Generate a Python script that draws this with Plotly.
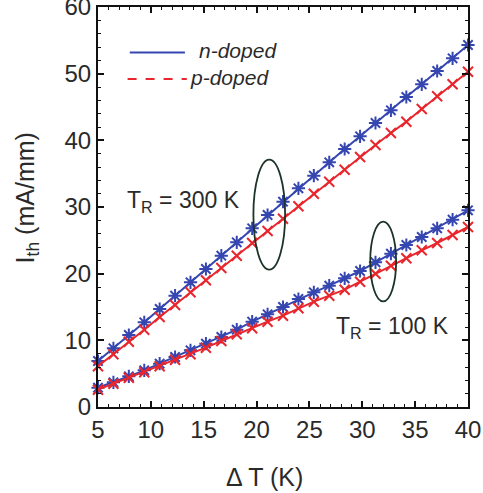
import numpy as np
import plotly.graph_objects as go

# Data
dT = np.linspace(5, 40, 25).tolist()

n300 = [6.9, 8.8, 10.8, 12.7, 14.7, 16.7, 18.7, 20.7, 22.7, 24.7, 26.8, 28.8, 30.8,
        32.8, 34.7, 36.7, 38.7, 40.6, 42.6, 44.5, 46.5, 48.4, 50.4, 52.3, 54.3]
p300 = [6.1, 7.9, 9.8, 11.6, 13.5, 15.3, 17.2, 19.0, 20.85, 22.7, 24.6, 26.4, 28.25,
        30.1, 32.0, 33.8, 35.6, 37.5, 39.3, 41.1, 42.8, 44.7, 46.6, 48.4, 50.3]
n100 = [2.9, 3.7, 4.6, 5.5, 6.5, 7.5, 8.5, 9.5, 10.5, 11.6, 12.8, 13.9, 15.0,
        16.2, 17.2, 18.2, 19.3, 20.4, 21.7, 23.0, 24.3, 25.5, 26.8, 28.1, 29.5]
p100 = [2.6, 3.5, 4.4, 5.2, 6.1, 7.1, 7.9, 8.9, 9.9, 10.9, 11.8, 12.8, 13.7,
        14.8, 15.8, 16.7, 17.6, 18.8, 20.0, 21.2, 22.3, 23.5, 24.6, 25.8, 27.0]

x_ticks = [5, 10, 15, 20, 25, 30, 35, 40]
y_ticks = [0, 10, 20, 30, 40, 50, 60]
legend_labels = ["n-doped", "p-doped"]
labels_TR = ["T<sub>R</sub> = 300 K", "T<sub>R</sub> = 100 K"]

BLUE = "#3546b0"
RED = "#e8262d"
FONT = "Liberation Sans, Arial, sans-serif"
TXT = "#2a2a2a"

fig = go.Figure()
for y, col, sym, sz in [(n300, BLUE, "asterisk-open", 11), (p300, RED, "x-thin-open", 10),
                        (n100, BLUE, "asterisk-open", 11), (p100, RED, "x-thin-open", 10)]:
    fig.add_trace(go.Scatter(
        x=dT, y=y, mode="lines+markers",
        line=dict(color=col, width=2),
        marker=dict(symbol=sym, size=sz, color=col, line=dict(color=col, width=2)),
        showlegend=False, cliponaxis=False))

# ellipses
fig.add_shape(type="circle", xref="x", yref="y", x0=19.7, x1=22.7, y0=20.6, y1=37.1,
              line=dict(color="#1c3326", width=1.8))
fig.add_shape(type="circle", xref="x", yref="y", x0=30.75, x1=33.2, y0=15.85, y1=27.8,
              line=dict(color="#1c3326", width=1.8))

# legend (manual)
fig.add_shape(type="line", xref="paper", yref="paper", x0=0.086, x1=0.235, y0=0.886, y1=0.886,
              line=dict(color=BLUE, width=2))
fig.add_shape(type="line", xref="paper", yref="paper", x0=0.08, x1=0.24, y0=0.82, y1=0.82,
              line=dict(color=RED, width=2, dash="dash"))
fig.add_annotation(x=0.268, y=0.89, xref="paper", yref="paper", text="<i>" + legend_labels[0] + "</i>",
                   showarrow=False, xanchor="left", yanchor="middle",
                   font=dict(family=FONT, size=21, color=TXT))
fig.add_annotation(x=0.243, y=0.824, xref="paper", yref="paper", text="<i>" + legend_labels[1] + "</i>",
                   showarrow=False, xanchor="left", yanchor="middle",
                   font=dict(family=FONT, size=21, color=TXT))

# T_R labels
fig.add_annotation(x=7.6, y=30.8, xref="x", yref="y", text=labels_TR[0], showarrow=False,
                   xanchor="left", yanchor="middle", font=dict(family=FONT, size=23, color=TXT))
fig.add_annotation(x=27.3, y=12.0, xref="x", yref="y", text=labels_TR[1], showarrow=False,
                   xanchor="left", yanchor="middle", font=dict(family=FONT, size=23, color=TXT))

# axis titles
fig.add_annotation(x=0.451, y=-0.176, xref="paper", yref="paper", text="Δ T (K)", showarrow=False,
                   xanchor="center", yanchor="middle", font=dict(family=FONT, size=25, color=TXT))
fig.add_annotation(x=-0.193, y=0.523, xref="paper", yref="paper", text="I<sub>th</sub> (mA/mm)",
                   showarrow=False, textangle=-90, xanchor="center", yanchor="middle",
                   font=dict(family=FONT, size=25, color=TXT))

axis_common = dict(showgrid=False, zeroline=False, showline=True, linecolor="#111", linewidth=2,
                   mirror="allticks", ticks="inside", ticklen=6, tickwidth=1.5, tickcolor="#111",
                   automargin=False, ticklabeloverflow="allow",
                   tickfont=dict(family=FONT, size=24, color=TXT))
fig.update_xaxes(range=[5, 40], tickvals=x_ticks,
                 minor=dict(dtick=1, ticks="inside", ticklen=3, tickcolor="#111", tickwidth=1.2),
                 **axis_common)
fig.update_yaxes(range=[0, 60], tickvals=y_ticks,
                 minor=dict(dtick=2, ticks="inside", ticklen=3, tickcolor="#111", tickwidth=1.2),
                 **axis_common)

fig.update_layout(width=483, height=493, margin=dict(l=98, r=15, t=7, b=85.5),
                  paper_bgcolor="white", plot_bgcolor="white",
                  font=dict(family=FONT, color=TXT))
fig.write_html("out.html", config={"displayModeBar": False},
               post_script="document.body.style.margin='0';document.body.style.overflow='hidden';")
